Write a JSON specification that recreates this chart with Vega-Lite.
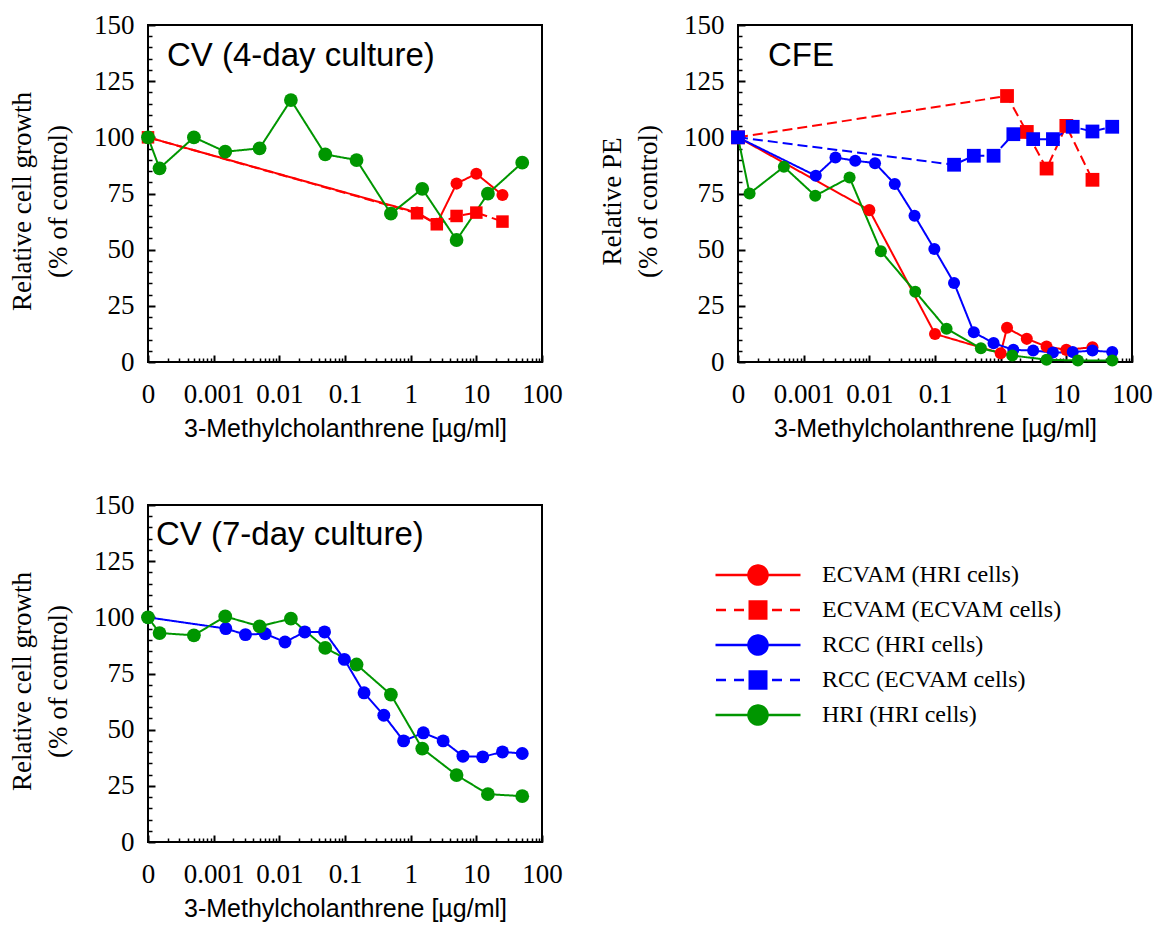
{
  "$schema": "https://vega.github.io/schema/vega-lite/v6.json",
  "autosize": {"type": "pad"},
  "padding": {"left": 7, "top": 10, "right": 5, "bottom": 5},
  "background": "white",
  "datasets": {
    "rows": [
      {"panel": "cv4", "series": "ECVAM (HRI cells)", "dose": 0.0001, "value": 100},
      {"panel": "cv4", "series": "ECVAM (HRI cells)", "dose": 1.25, "value": 66.5},
      {"panel": "cv4", "series": "ECVAM (HRI cells)", "dose": 2.5, "value": 61.5},
      {"panel": "cv4", "series": "ECVAM (HRI cells)", "dose": 5, "value": 79.4},
      {"panel": "cv4", "series": "ECVAM (HRI cells)", "dose": 10, "value": 83.8},
      {"panel": "cv4", "series": "ECVAM (HRI cells)", "dose": 25, "value": 74.3},
      {"panel": "cv4", "series": "ECVAM (ECVAM cells)", "dose": 0.0001, "value": 100},
      {"panel": "cv4", "series": "ECVAM (ECVAM cells)", "dose": 1.25, "value": 66.2},
      {"panel": "cv4", "series": "ECVAM (ECVAM cells)", "dose": 2.5, "value": 61.3},
      {"panel": "cv4", "series": "ECVAM (ECVAM cells)", "dose": 5, "value": 65.0},
      {"panel": "cv4", "series": "ECVAM (ECVAM cells)", "dose": 10, "value": 66.5},
      {"panel": "cv4", "series": "ECVAM (ECVAM cells)", "dose": 25, "value": 62.5},
      {"panel": "cv4", "series": "HRI (HRI cells)", "dose": 0.0001, "value": 100},
      {"panel": "cv4", "series": "HRI (HRI cells)", "dose": 0.00015, "value": 86.2},
      {"panel": "cv4", "series": "HRI (HRI cells)", "dose": 0.0005, "value": 100},
      {"panel": "cv4", "series": "HRI (HRI cells)", "dose": 0.0015, "value": 93.6},
      {"panel": "cv4", "series": "HRI (HRI cells)", "dose": 0.005, "value": 95.1},
      {"panel": "cv4", "series": "HRI (HRI cells)", "dose": 0.015, "value": 116.6},
      {"panel": "cv4", "series": "HRI (HRI cells)", "dose": 0.05, "value": 92.4},
      {"panel": "cv4", "series": "HRI (HRI cells)", "dose": 0.15, "value": 89.9},
      {"panel": "cv4", "series": "HRI (HRI cells)", "dose": 0.5, "value": 66.0},
      {"panel": "cv4", "series": "HRI (HRI cells)", "dose": 1.5, "value": 77.1},
      {"panel": "cv4", "series": "HRI (HRI cells)", "dose": 5, "value": 54.3},
      {"panel": "cv4", "series": "HRI (HRI cells)", "dose": 15, "value": 74.9},
      {"panel": "cv4", "series": "HRI (HRI cells)", "dose": 50, "value": 88.7},

      {"panel": "cfe", "series": "ECVAM (HRI cells)", "dose": 0.0001, "value": 100},
      {"panel": "cfe", "series": "ECVAM (HRI cells)", "dose": 0.01, "value": 67.6},
      {"panel": "cfe", "series": "ECVAM (HRI cells)", "dose": 0.1, "value": 12.5},
      {"panel": "cfe", "series": "ECVAM (HRI cells)", "dose": 1, "value": 3.9},
      {"panel": "cfe", "series": "ECVAM (HRI cells)", "dose": 1.25, "value": 15.2},
      {"panel": "cfe", "series": "ECVAM (HRI cells)", "dose": 2.5, "value": 10.3},
      {"panel": "cfe", "series": "ECVAM (HRI cells)", "dose": 5, "value": 6.9},
      {"panel": "cfe", "series": "ECVAM (HRI cells)", "dose": 10, "value": 5.4},
      {"panel": "cfe", "series": "ECVAM (HRI cells)", "dose": 25, "value": 6.6},
      {"panel": "cfe", "series": "ECVAM (ECVAM cells)", "dose": 0.0001, "value": 100},
      {"panel": "cfe", "series": "ECVAM (ECVAM cells)", "dose": 1.25, "value": 118.4},
      {"panel": "cfe", "series": "ECVAM (ECVAM cells)", "dose": 2.5, "value": 102.4},
      {"panel": "cfe", "series": "ECVAM (ECVAM cells)", "dose": 5, "value": 86.1},
      {"panel": "cfe", "series": "ECVAM (ECVAM cells)", "dose": 10, "value": 105.1},
      {"panel": "cfe", "series": "ECVAM (ECVAM cells)", "dose": 25, "value": 81.1},
      {"panel": "cfe", "series": "RCC (HRI cells)", "dose": 0.0001, "value": 100},
      {"panel": "cfe", "series": "RCC (HRI cells)", "dose": 0.00153, "value": 82.9},
      {"panel": "cfe", "series": "RCC (HRI cells)", "dose": 0.00305, "value": 91.0},
      {"panel": "cfe", "series": "RCC (HRI cells)", "dose": 0.0061, "value": 89.6},
      {"panel": "cfe", "series": "RCC (HRI cells)", "dose": 0.0122, "value": 88.5},
      {"panel": "cfe", "series": "RCC (HRI cells)", "dose": 0.0244, "value": 79.2},
      {"panel": "cfe", "series": "RCC (HRI cells)", "dose": 0.0488, "value": 65.1},
      {"panel": "cfe", "series": "RCC (HRI cells)", "dose": 0.0977, "value": 50.3},
      {"panel": "cfe", "series": "RCC (HRI cells)", "dose": 0.195, "value": 35.2},
      {"panel": "cfe", "series": "RCC (HRI cells)", "dose": 0.39, "value": 13.2},
      {"panel": "cfe", "series": "RCC (HRI cells)", "dose": 0.78, "value": 8.4},
      {"panel": "cfe", "series": "RCC (HRI cells)", "dose": 1.56, "value": 5.4},
      {"panel": "cfe", "series": "RCC (HRI cells)", "dose": 3.125, "value": 5.1},
      {"panel": "cfe", "series": "RCC (HRI cells)", "dose": 6.25, "value": 4.2},
      {"panel": "cfe", "series": "RCC (HRI cells)", "dose": 12.5, "value": 4.4},
      {"panel": "cfe", "series": "RCC (HRI cells)", "dose": 25, "value": 5.1},
      {"panel": "cfe", "series": "RCC (HRI cells)", "dose": 50, "value": 4.4},
      {"panel": "cfe", "series": "RCC (ECVAM cells)", "dose": 0.0001, "value": 100},
      {"panel": "cfe", "series": "RCC (ECVAM cells)", "dose": 0.195, "value": 87.8},
      {"panel": "cfe", "series": "RCC (ECVAM cells)", "dose": 0.39, "value": 91.8},
      {"panel": "cfe", "series": "RCC (ECVAM cells)", "dose": 0.78, "value": 91.8},
      {"panel": "cfe", "series": "RCC (ECVAM cells)", "dose": 1.56, "value": 101.4},
      {"panel": "cfe", "series": "RCC (ECVAM cells)", "dose": 3.125, "value": 99.2},
      {"panel": "cfe", "series": "RCC (ECVAM cells)", "dose": 6.25, "value": 99.2},
      {"panel": "cfe", "series": "RCC (ECVAM cells)", "dose": 12.5, "value": 104.7},
      {"panel": "cfe", "series": "RCC (ECVAM cells)", "dose": 25, "value": 102.6},
      {"panel": "cfe", "series": "RCC (ECVAM cells)", "dose": 50, "value": 104.7},
      {"panel": "cfe", "series": "HRI (HRI cells)", "dose": 0.0001, "value": 100},
      {"panel": "cfe", "series": "HRI (HRI cells)", "dose": 0.00015, "value": 75.0},
      {"panel": "cfe", "series": "HRI (HRI cells)", "dose": 0.0005, "value": 86.9},
      {"panel": "cfe", "series": "HRI (HRI cells)", "dose": 0.0015, "value": 74.0},
      {"panel": "cfe", "series": "HRI (HRI cells)", "dose": 0.005, "value": 82.1},
      {"panel": "cfe", "series": "HRI (HRI cells)", "dose": 0.015, "value": 49.3},
      {"panel": "cfe", "series": "HRI (HRI cells)", "dose": 0.05, "value": 31.3},
      {"panel": "cfe", "series": "HRI (HRI cells)", "dose": 0.15, "value": 14.8},
      {"panel": "cfe", "series": "HRI (HRI cells)", "dose": 0.5, "value": 6.1},
      {"panel": "cfe", "series": "HRI (HRI cells)", "dose": 1.5, "value": 2.9},
      {"panel": "cfe", "series": "HRI (HRI cells)", "dose": 5, "value": 1.0},
      {"panel": "cfe", "series": "HRI (HRI cells)", "dose": 15, "value": 0.7},
      {"panel": "cfe", "series": "HRI (HRI cells)", "dose": 50, "value": 0.7},

      {"panel": "cv7", "series": "RCC (HRI cells)", "dose": 0.0001, "value": 100},
      {"panel": "cv7", "series": "RCC (HRI cells)", "dose": 0.00153, "value": 95.0},
      {"panel": "cv7", "series": "RCC (HRI cells)", "dose": 0.00305, "value": 92.3},
      {"panel": "cv7", "series": "RCC (HRI cells)", "dose": 0.0061, "value": 92.7},
      {"panel": "cv7", "series": "RCC (HRI cells)", "dose": 0.0122, "value": 89.0},
      {"panel": "cv7", "series": "RCC (HRI cells)", "dose": 0.0244, "value": 93.5},
      {"panel": "cv7", "series": "RCC (HRI cells)", "dose": 0.0488, "value": 93.5},
      {"panel": "cv7", "series": "RCC (HRI cells)", "dose": 0.0977, "value": 81.3},
      {"panel": "cv7", "series": "RCC (HRI cells)", "dose": 0.195, "value": 66.4},
      {"panel": "cv7", "series": "RCC (HRI cells)", "dose": 0.39, "value": 56.4},
      {"panel": "cv7", "series": "RCC (HRI cells)", "dose": 0.78, "value": 45.0},
      {"panel": "cv7", "series": "RCC (HRI cells)", "dose": 1.56, "value": 48.6},
      {"panel": "cv7", "series": "RCC (HRI cells)", "dose": 3.125, "value": 45.0},
      {"panel": "cv7", "series": "RCC (HRI cells)", "dose": 6.25, "value": 38.2},
      {"panel": "cv7", "series": "RCC (HRI cells)", "dose": 12.5, "value": 37.9},
      {"panel": "cv7", "series": "RCC (HRI cells)", "dose": 25, "value": 40.1},
      {"panel": "cv7", "series": "RCC (HRI cells)", "dose": 50, "value": 39.4},
      {"panel": "cv7", "series": "HRI (HRI cells)", "dose": 0.0001, "value": 100},
      {"panel": "cv7", "series": "HRI (HRI cells)", "dose": 0.00015, "value": 93.0},
      {"panel": "cv7", "series": "HRI (HRI cells)", "dose": 0.0005, "value": 92.0},
      {"panel": "cv7", "series": "HRI (HRI cells)", "dose": 0.0015, "value": 100.4},
      {"panel": "cv7", "series": "HRI (HRI cells)", "dose": 0.005, "value": 96.0},
      {"panel": "cv7", "series": "HRI (HRI cells)", "dose": 0.015, "value": 99.4},
      {"panel": "cv7", "series": "HRI (HRI cells)", "dose": 0.05, "value": 86.4},
      {"panel": "cv7", "series": "HRI (HRI cells)", "dose": 0.15, "value": 79.0},
      {"panel": "cv7", "series": "HRI (HRI cells)", "dose": 0.5, "value": 65.6},
      {"panel": "cv7", "series": "HRI (HRI cells)", "dose": 1.5, "value": 41.6},
      {"panel": "cv7", "series": "HRI (HRI cells)", "dose": 5, "value": 29.8},
      {"panel": "cv7", "series": "HRI (HRI cells)", "dose": 15, "value": 21.3},
      {"panel": "cv7", "series": "HRI (HRI cells)", "dose": 50, "value": 20.4}
    ]
  },
  "columns": 2,
  "spacing": {"row": 143, "column": 196},
  "bounds": "flush",
  "concat": [
    {
      "width": 394, "height": 337,
      "title": {"text": "CV (4-day culture)", "dx": 19, "offset": -62},
      "data": {"name": "rows"},
      "transform": [{"filter": "datum.panel === 'cv4'"}],
      "layer": [
        {
          "mark": {"type": "line", "strokeWidth": 2},
          "encoding": {
            "x": {"field": "dose", "type": "quantitative", "scale": {"type": "log", "domain": [0.0001, 100], "nice": false},
                  "axis": {"orient": "bottom", "values": [0.0001, 0.001, 0.01, 0.1, 1, 10, 100], "labelExpr": "datum.value < 0.0005 ? '0' : '' + datum.value", "offset": -7, "tickSize": 7, "tickColor": "black", "tickWidth": 2, "labelPadding": 19, "title": "3-Methylcholanthrene [µg/ml]", "titlePadding": 9}},
            "y": {"field": "value", "type": "quantitative", "scale": {"domain": [0, 150], "nice": false},
                  "axis": {"orient": "left", "values": [0, 25, 50, 75, 100, 125, 150], "offset": -7, "tickSize": 7, "tickColor": "black", "tickWidth": 2, "labelPadding": 14, "title": ["Relative cell growth", "(% of control)"], "titlePadding": 21, "titleY": 176}},
            "color": {"field": "series", "type": "nominal", "scale": {"domain": ["ECVAM (HRI cells)", "ECVAM (ECVAM cells)", "RCC (HRI cells)", "RCC (ECVAM cells)", "HRI (HRI cells)"], "range": ["#ff0000", "#ff0000", "#0000ff", "#0000ff", "#009600"]}, "legend": null},
            "strokeDash": {"field": "series", "type": "nominal", "scale": {"domain": ["ECVAM (HRI cells)", "ECVAM (ECVAM cells)", "RCC (HRI cells)", "RCC (ECVAM cells)", "HRI (HRI cells)"], "range": [[1, 0], [10, 5], [1, 0], [10, 5], [1, 0]]}, "legend": null}
          }
        },
        {
          "mark": {"type": "point", "filled": true, "opacity": 1},
          "encoding": {
            "x": {"field": "dose", "type": "quantitative", "scale": {"type": "log", "domain": [0.0001, 100], "nice": false},
                  "axis": {"orient": "bottom", "values": [0.0002,0.0003,0.0004,0.0005,0.0006,0.0007,0.0008,0.0009,0.002,0.003,0.004,0.005,0.006,0.007,0.008,0.009,0.02,0.03,0.04,0.05,0.06,0.07,0.08,0.09,0.2,0.3,0.4,0.5,0.6,0.7,0.8,0.9,2,3,4,5,6,7,8,9,20,30,40,50,60,70,80,90], "labels": false, "offset": -4, "tickSize": 4, "tickColor": "black", "tickWidth": 1.5, "title": null}},
            "y": {"field": "value", "type": "quantitative", "scale": {"domain": [0, 150], "nice": false},
                  "axis": {"orient": "left", "values": [5,10,15,20,30,35,40,45,55,60,65,70,80,85,90,95,105,110,115,120,130,135,140,145], "labels": false, "offset": -4, "tickSize": 4, "tickColor": "black", "tickWidth": 1.5, "title": null}},
            "color": {"field": "series", "type": "nominal", "scale": {"domain": ["ECVAM (HRI cells)", "ECVAM (ECVAM cells)", "RCC (HRI cells)", "RCC (ECVAM cells)", "HRI (HRI cells)"], "range": ["#ff0000", "#ff0000", "#0000ff", "#0000ff", "#009600"]}, "legend": null},
            "shape": {"field": "series", "type": "nominal", "scale": {"domain": ["ECVAM (HRI cells)", "ECVAM (ECVAM cells)", "RCC (HRI cells)", "RCC (ECVAM cells)", "HRI (HRI cells)"], "range": ["circle", "square", "circle", "square", "circle"]}, "legend": null},
            "size": {"field": "series", "type": "nominal", "scale": {"domain": ["ECVAM (HRI cells)", "ECVAM (ECVAM cells)", "RCC (HRI cells)", "RCC (ECVAM cells)", "HRI (HRI cells)"], "range": [145, 190, 145, 190, 145]}, "legend": null}
          }
        }
      ],
      "resolve": {"axis": {"x": "independent", "y": "independent"}}
    },
    {
      "width": 394, "height": 337,
      "title": {"text": "CFE", "dx": 30, "offset": -62},
      "data": {"name": "rows"},
      "transform": [{"filter": "datum.panel === 'cfe'"}],
      "layer": [
        {
          "mark": {"type": "line", "strokeWidth": 2},
          "encoding": {
            "x": {"field": "dose", "type": "quantitative", "scale": {"type": "log", "domain": [0.0001, 100], "nice": false},
                  "axis": {"orient": "bottom", "values": [0.0001, 0.001, 0.01, 0.1, 1, 10, 100], "labelExpr": "datum.value < 0.0005 ? '0' : '' + datum.value", "offset": -7, "tickSize": 7, "tickColor": "black", "tickWidth": 2, "labelPadding": 19, "title": "3-Methylcholanthrene [µg/ml]", "titlePadding": 9}},
            "y": {"field": "value", "type": "quantitative", "scale": {"domain": [0, 150], "nice": false},
                  "axis": {"orient": "left", "values": [0, 25, 50, 75, 100, 125, 150], "offset": -7, "tickSize": 7, "tickColor": "black", "tickWidth": 2, "labelPadding": 14, "title": ["Relative PE", "(% of control)"], "titlePadding": 21, "titleY": 176}},
            "color": {"field": "series", "type": "nominal", "scale": {"domain": ["ECVAM (HRI cells)", "ECVAM (ECVAM cells)", "RCC (HRI cells)", "RCC (ECVAM cells)", "HRI (HRI cells)"], "range": ["#ff0000", "#ff0000", "#0000ff", "#0000ff", "#009600"]},
                      "legend": {"title": null, "orient": "none", "legendX": 8, "legendY": 538, "padding": 0, "symbolSize": 400, "symbolStrokeWidth": 2.5, "symbolOpacity": 1, "labelFont": "Liberation Serif", "labelFontSize": 24, "labelColor": "black", "labelOffset": 52, "labelLimit": 400, "rowPadding": 6}},
            "strokeDash": {"field": "series", "type": "nominal", "scale": {"domain": ["ECVAM (HRI cells)", "ECVAM (ECVAM cells)", "RCC (HRI cells)", "RCC (ECVAM cells)", "HRI (HRI cells)"], "range": [[1, 0], [10, 5], [1, 0], [10, 5], [1, 0]]}, "legend": null}
          }
        },
        {
          "transform": [{"filter": "indexof(datum.series, 'HRI cells') >= 0"}],
          "mark": {"type": "point", "filled": true, "opacity": 1, "shape": "circle", "size": 145},
          "encoding": {
            "x": {"field": "dose", "type": "quantitative", "scale": {"type": "log", "domain": [0.0001, 100], "nice": false},
                  "axis": {"orient": "bottom", "values": [0.0002,0.0003,0.0004,0.0005,0.0006,0.0007,0.0008,0.0009,0.002,0.003,0.004,0.005,0.006,0.007,0.008,0.009,0.02,0.03,0.04,0.05,0.06,0.07,0.08,0.09,0.2,0.3,0.4,0.5,0.6,0.7,0.8,0.9,2,3,4,5,6,7,8,9,20,30,40,50,60,70,80,90], "labels": false, "offset": -4, "tickSize": 4, "tickColor": "black", "tickWidth": 1.5, "title": null}},
            "y": {"field": "value", "type": "quantitative", "scale": {"domain": [0, 150], "nice": false},
                  "axis": {"orient": "left", "values": [5,10,15,20,30,35,40,45,55,60,65,70,80,85,90,95,105,110,115,120,130,135,140,145], "labels": false, "offset": -4, "tickSize": 4, "tickColor": "black", "tickWidth": 1.5, "title": null}},
            "color": {"field": "series", "type": "nominal", "scale": {"domain": ["ECVAM (HRI cells)", "ECVAM (ECVAM cells)", "RCC (HRI cells)", "RCC (ECVAM cells)", "HRI (HRI cells)"], "range": ["#ff0000", "#ff0000", "#0000ff", "#0000ff", "#009600"]},
                      "legend": {"title": null, "orient": "none", "legendX": 8, "legendY": 538, "padding": 0, "symbolSize": 400, "symbolStrokeWidth": 2.5, "symbolOpacity": 1, "labelFont": "Liberation Serif", "labelFontSize": 24, "labelColor": "black", "labelOffset": 52, "labelLimit": 400, "rowPadding": 6}}
          }
        },
        {
          "transform": [{"filter": "indexof(datum.series, 'ECVAM cells') >= 0"}],
          "mark": {"type": "point", "filled": true, "opacity": 1, "shape": "square", "size": 190},
          "encoding": {
            "x": {"field": "dose", "type": "quantitative", "axis": null},
            "y": {"field": "value", "type": "quantitative", "axis": null},
            "color": {"field": "series", "type": "nominal",
                      "legend": {"title": null, "orient": "none", "legendX": 8, "legendY": 538, "padding": 0, "symbolSize": 400, "symbolStrokeWidth": 2.5, "symbolOpacity": 1, "labelFont": "Liberation Serif", "labelFontSize": 24, "labelColor": "black", "labelOffset": 52, "labelLimit": 400, "rowPadding": 6}}
          }
        },
        {
          "mark": {"type": "point", "filled": true, "opacity": 0},
          "encoding": {
            "x": {"field": "dose", "type": "quantitative", "axis": null},
            "y": {"field": "value", "type": "quantitative", "axis": null},
            "color": {"field": "series", "type": "nominal",
                      "legend": {"title": null, "orient": "none", "legendX": 8, "legendY": 538, "padding": 0, "symbolSize": 400, "symbolStrokeWidth": 2.5, "symbolOpacity": 1, "labelFont": "Liberation Serif", "labelFontSize": 24, "labelColor": "black", "labelOffset": 52, "labelLimit": 400, "rowPadding": 6}},
            "shape": {"field": "series", "type": "nominal", "scale": {"domain": ["ECVAM (HRI cells)", "ECVAM (ECVAM cells)", "RCC (HRI cells)", "RCC (ECVAM cells)", "HRI (HRI cells)"],
                        "range": ["M-4.25,0L4.25,0M0.95,0A0.95,0.95,0,1,1,-0.95,0A0.95,0.95,0,1,1,0.95,0Z",
                                  "M-4.2,0L-3.2,0M-2.4,0L-1.4,0M1.4,0L2.4,0M3.2,0L4.2,0M-0.95,-0.85L0,-0.85M0,-0.85L0.95,-0.85M-0.95,-0.68L0,-0.68M0,-0.68L0.95,-0.68M-0.95,-0.51L0,-0.51M0,-0.51L0.95,-0.51M-0.95,-0.34L0,-0.34M0,-0.34L0.95,-0.34M-0.95,-0.17L0,-0.17M0,-0.17L0.95,-0.17M-0.95,0L0,0M0,0L0.95,0M-0.95,0.17L0,0.17M0,0.17L0.95,0.17M-0.95,0.34L0,0.34M0,0.34L0.95,0.34M-0.95,0.51L0,0.51M0,0.51L0.95,0.51M-0.95,0.68L0,0.68M0,0.68L0.95,0.68M-0.95,0.85L0,0.85M0,0.85L0.95,0.85",
                                  "M-4.25,0L4.25,0M0.95,0A0.95,0.95,0,1,1,-0.95,0A0.95,0.95,0,1,1,0.95,0Z",
                                  "M-4.2,0L-3.2,0M-2.4,0L-1.4,0M1.4,0L2.4,0M3.2,0L4.2,0M-0.95,-0.85L0,-0.85M0,-0.85L0.95,-0.85M-0.95,-0.68L0,-0.68M0,-0.68L0.95,-0.68M-0.95,-0.51L0,-0.51M0,-0.51L0.95,-0.51M-0.95,-0.34L0,-0.34M0,-0.34L0.95,-0.34M-0.95,-0.17L0,-0.17M0,-0.17L0.95,-0.17M-0.95,0L0,0M0,0L0.95,0M-0.95,0.17L0,0.17M0,0.17L0.95,0.17M-0.95,0.34L0,0.34M0,0.34L0.95,0.34M-0.95,0.51L0,0.51M0,0.51L0.95,0.51M-0.95,0.68L0,0.68M0,0.68L0.95,0.68M-0.95,0.85L0,0.85M0,0.85L0.95,0.85",
                                  "M-4.25,0L4.25,0M0.95,0A0.95,0.95,0,1,1,-0.95,0A0.95,0.95,0,1,1,0.95,0Z"]},
                     "legend": {"title": null, "orient": "none", "legendX": 8, "legendY": 538, "padding": 0, "symbolSize": 400, "symbolStrokeWidth": 2.5, "symbolOpacity": 1, "labelFont": "Liberation Serif", "labelFontSize": 24, "labelColor": "black", "labelOffset": 52, "labelLimit": 400, "rowPadding": 6}}
          }
        }
      ],
      "resolve": {"axis": {"x": "independent", "y": "independent"}}
    },
    {
      "width": 394, "height": 337,
      "title": {"text": "CV (7-day culture)", "dx": 8, "offset": -61},
      "data": {"name": "rows"},
      "transform": [{"filter": "datum.panel === 'cv7'"}],
      "layer": [
        {
          "mark": {"type": "line", "strokeWidth": 2},
          "encoding": {
            "x": {"field": "dose", "type": "quantitative", "scale": {"type": "log", "domain": [0.0001, 100], "nice": false},
                  "axis": {"orient": "bottom", "values": [0.0001, 0.001, 0.01, 0.1, 1, 10, 100], "labelExpr": "datum.value < 0.0005 ? '0' : '' + datum.value", "offset": -7, "tickSize": 7, "tickColor": "black", "tickWidth": 2, "labelPadding": 19, "title": "3-Methylcholanthrene [µg/ml]", "titlePadding": 9}},
            "y": {"field": "value", "type": "quantitative", "scale": {"domain": [0, 150], "nice": false},
                  "axis": {"orient": "left", "values": [0, 25, 50, 75, 100, 125, 150], "offset": -7, "tickSize": 7, "tickColor": "black", "tickWidth": 2, "labelPadding": 14, "title": ["Relative cell growth", "(% of control)"], "titlePadding": 21, "titleY": 176}},
            "color": {"field": "series", "type": "nominal", "scale": {"domain": ["ECVAM (HRI cells)", "ECVAM (ECVAM cells)", "RCC (HRI cells)", "RCC (ECVAM cells)", "HRI (HRI cells)"], "range": ["#ff0000", "#ff0000", "#0000ff", "#0000ff", "#009600"]}, "legend": null},
            "strokeDash": {"field": "series", "type": "nominal", "scale": {"domain": ["ECVAM (HRI cells)", "ECVAM (ECVAM cells)", "RCC (HRI cells)", "RCC (ECVAM cells)", "HRI (HRI cells)"], "range": [[1, 0], [10, 5], [1, 0], [10, 5], [1, 0]]}, "legend": null}
          }
        },
        {
          "mark": {"type": "point", "filled": true, "opacity": 1},
          "encoding": {
            "x": {"field": "dose", "type": "quantitative", "scale": {"type": "log", "domain": [0.0001, 100], "nice": false},
                  "axis": {"orient": "bottom", "values": [0.0002,0.0003,0.0004,0.0005,0.0006,0.0007,0.0008,0.0009,0.002,0.003,0.004,0.005,0.006,0.007,0.008,0.009,0.02,0.03,0.04,0.05,0.06,0.07,0.08,0.09,0.2,0.3,0.4,0.5,0.6,0.7,0.8,0.9,2,3,4,5,6,7,8,9,20,30,40,50,60,70,80,90], "labels": false, "offset": -4, "tickSize": 4, "tickColor": "black", "tickWidth": 1.5, "title": null}},
            "y": {"field": "value", "type": "quantitative", "scale": {"domain": [0, 150], "nice": false},
                  "axis": {"orient": "left", "values": [5,10,15,20,30,35,40,45,55,60,65,70,80,85,90,95,105,110,115,120,130,135,140,145], "labels": false, "offset": -4, "tickSize": 4, "tickColor": "black", "tickWidth": 1.5, "title": null}},
            "color": {"field": "series", "type": "nominal", "scale": {"domain": ["ECVAM (HRI cells)", "ECVAM (ECVAM cells)", "RCC (HRI cells)", "RCC (ECVAM cells)", "HRI (HRI cells)"], "range": ["#ff0000", "#ff0000", "#0000ff", "#0000ff", "#009600"]}, "legend": null},
            "shape": {"field": "series", "type": "nominal", "scale": {"domain": ["ECVAM (HRI cells)", "ECVAM (ECVAM cells)", "RCC (HRI cells)", "RCC (ECVAM cells)", "HRI (HRI cells)"], "range": ["circle", "square", "circle", "square", "circle"]}, "legend": null},
            "size": {"field": "series", "type": "nominal", "scale": {"domain": ["ECVAM (HRI cells)", "ECVAM (ECVAM cells)", "RCC (HRI cells)", "RCC (ECVAM cells)", "HRI (HRI cells)"], "range": [145, 190, 145, 190, 145]}, "legend": null}
          }
        }
      ],
      "resolve": {"axis": {"x": "independent", "y": "independent"}}
    }
  ],
  "resolve": {
    "scale": {"x": "independent", "y": "independent", "color": "independent", "shape": "independent", "strokeDash": "independent", "size": "independent"},
    "legend": {"color": "independent", "shape": "independent", "strokeDash": "independent", "size": "independent"}
  },
  "config": {
    "view": {"stroke": "black", "strokeWidth": 2},
    "axis": {"labelFont": "Liberation Serif", "labelFontSize": 27, "labelColor": "black", "tickColor": "black", "tickWidth": 2, "domain": false, "grid": false, "titleColor": "black", "titleFontWeight": "normal", "labelFlush": false, "labelOverlap": false},
    "axisX": {"titleFont": "Liberation Sans", "titleFontSize": 25},
    "axisY": {"titleFont": "Liberation Serif", "titleFontSize": 27, "titleLineHeight": 36},
    "title": {"font": "Liberation Sans", "fontSize": 33, "fontWeight": "normal", "color": "black", "anchor": "start", "frame": "group", "baseline": "alphabetic"}
  }
}
